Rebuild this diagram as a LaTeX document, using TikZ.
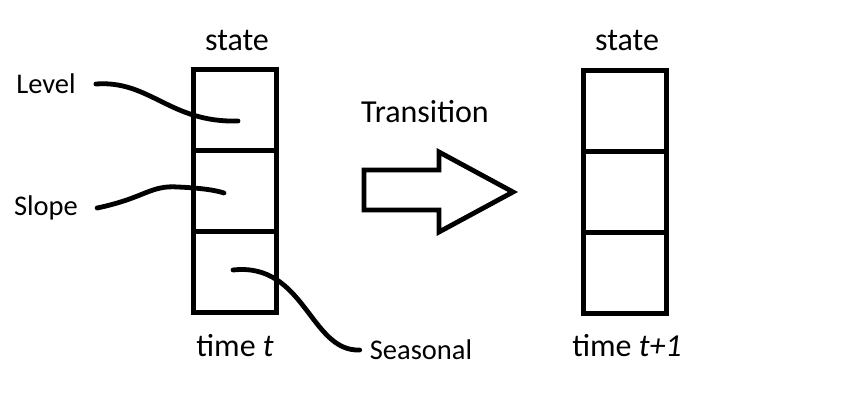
\documentclass[tikz,border=0pt]{standalone}
\usepackage{fontspec}
\setmainfont{Carlito}
\usetikzlibrary{positioning}

\begin{document}
\begin{tikzpicture}[x=1pt,y=-1pt,
    cell/.style={draw,line width=4.8pt,minimum width=83pt,minimum height=81pt,inner sep=0pt},
    lbl/.style={font=\fontsize{32}{36}\selectfont,inner sep=0pt},
    part/.style={font=\fontsize{28.5}{32}\selectfont,inner sep=0pt},
    wire/.style={line width=4.8pt,line cap=round}]
  \useasboundingbox (0,0) rectangle (849,401);
  % state at time t
  \node[cell] (a1) at (235,110) {};
  \node[cell] (a2) at (235,191) {};
  \node[cell] (a3) at (235,272) {};
  \node[lbl] (sa) at (237,41) {state};
  \node[lbl] (ta) at (235,346) {time {\itshape t}};
  % state at time t+1
  \node[cell] (b1) at (625,111) {};
  \node[cell] (b2) at (625,192) {};
  \node[cell] (b3) at (625,273) {};
  \node[lbl] (sb) at (627,41) {state};
  \node[lbl] (tb) at (627,346) {time {\itshape t+1}};
  % components
  \node[part] (lev) at (46,84) {Level};
  \node[part] (slo) at (46,208) {Slope};
  \node[part] (sea) at (421,350) {Seasonal};
  \coordinate (p1) at (238,121);
  \coordinate (p2) at (224,193);
  \coordinate (p3) at (233,270);
  \draw[wire] ([xshift=20pt]lev.east) .. controls (150,80) and (170,123) .. (p1);
  \draw[wire] ([xshift=19pt]slo.east) .. controls (145,198) and (150,185) .. (178,187)
    .. controls (200,188) and (215,190) .. (p2);
  \draw[wire] (p3) .. controls (305,262) and (310,352) .. ([xshift=-10pt]sea.west);
  % transition
  \node[lbl] (tr) at (425,112) {Transition};
  \draw[line width=4.8pt,miter limit=20] (364,170) -- (439,170) -- (439,152) -- (513,192)
    -- (439,232) -- (439,210) -- (364,210) -- cycle;
\end{tikzpicture}
\end{document}
